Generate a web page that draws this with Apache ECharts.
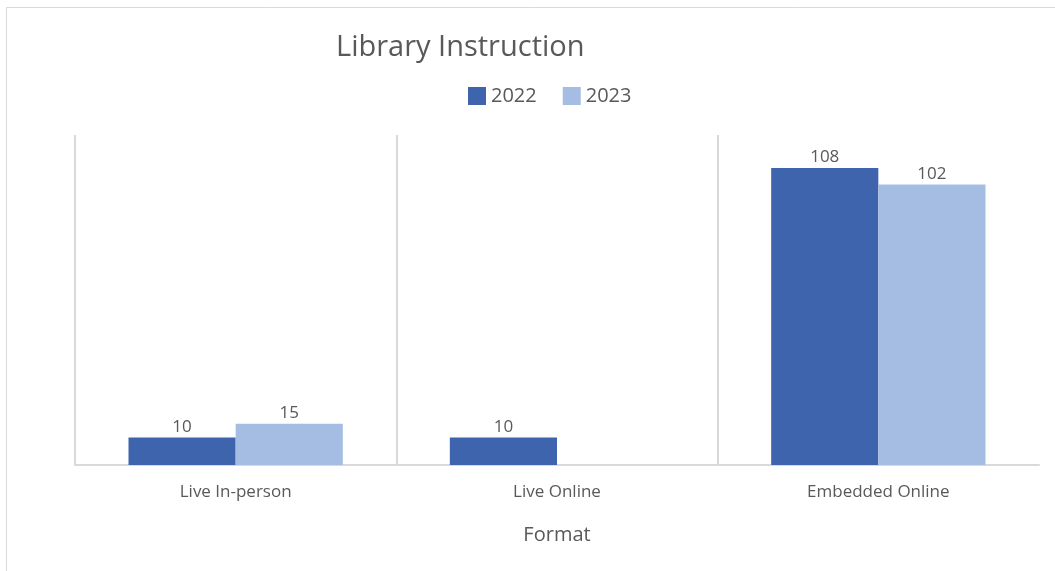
<!DOCTYPE html>
<html>
<head>
<meta charset="utf-8">
<script src="https://cdn.jsdelivr.net/npm/echarts@6/dist/echarts.min.js"></script>
<style>html,body{margin:0;padding:0;background:#fff}#c{width:1055px;height:571px}</style>
</head>
<body>
<div id="c"></div>
<script>
const categories = ['Live In-person', 'Live Online', 'Embedded Online'];
const seriesNames = ['2022', '2023'];
const values2022 = [10, 10, 108];
const values2023 = [15, '-', 102];
const colors = ['#3d64ac', '#a6bde3'];
const font = '"Open Sans", "Noto Sans", sans-serif';

const chart = echarts.init(document.getElementById('c'), null, {renderer: 'canvas'});
const mk = (name, data, color) => ({
  name, type: 'bar', data,
  barGap: '0%', barCategoryGap: '33.3%',
  itemStyle: {color},
  label: {show: true, position: 'top', distance: 2, color: '#595959', fontSize: 17, fontFamily: font},
  emphasis: {disabled: true}
});
chart.setOption({
  animation: false,
  title: {text: 'Library Instruction', left: 331, top: 28,
    textStyle: {color: '#595959', fontSize: 29, fontWeight: 'normal', fontFamily: font}},
  legend: {data: seriesNames, left: 463, top: 81, itemWidth: 18, itemHeight: 18, itemGap: 26,
    icon: 'rect', textStyle: {color: '#595959', fontSize: 20, fontFamily: font}},
  grid: {left: 75, right: 16, top: 135, bottom: 106},
  xAxis: {type: 'category', data: categories,
    name: 'Format', nameLocation: 'middle', nameGap: 60,
    nameTextStyle: {color: '#595959', fontSize: 20, fontFamily: font},
    axisLine: {lineStyle: {color: '#d9d9d9', width: 2}},
    axisTick: {show: false},
    axisLabel: {color: '#595959', fontSize: 17, margin: 19, fontFamily: font},
    splitLine: {show: true, showMaxLine: false, lineStyle: {color: '#d9d9d9', width: 2}}},
  yAxis: {type: 'value', min: 0, max: 120, show: false, splitLine: {show: false}},
  graphic: [{type: 'rect', silent: true, shape: {x: 6.5, y: 7.5, width: 2000, height: 2000},
    style: {fill: 'none', stroke: '#d9d9d9', lineWidth: 1}}],
  series: [mk(seriesNames[0], values2022, colors[0]), mk(seriesNames[1], values2023, colors[1])]
});
</script>
</body>
</html>
